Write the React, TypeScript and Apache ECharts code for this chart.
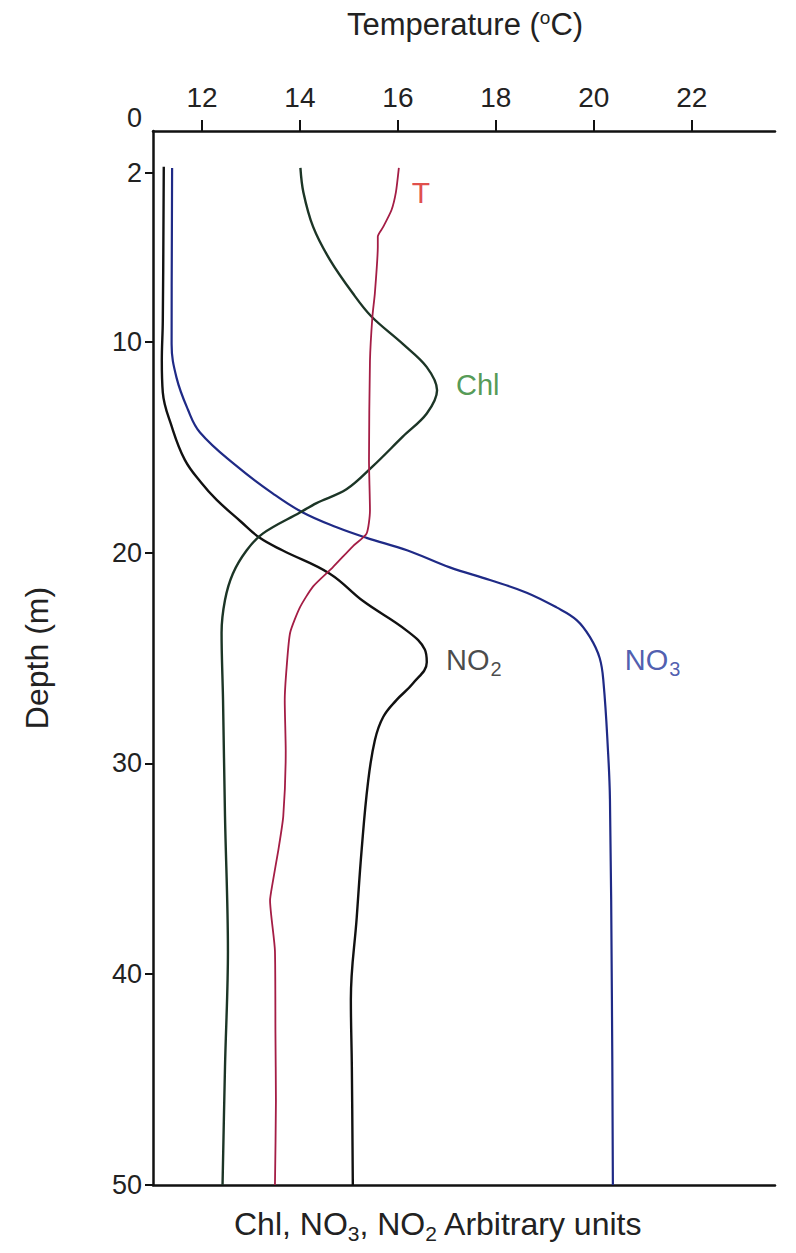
import React, { useEffect, useRef } from "react";
import * as echarts from "echarts";

// Depth (m) and values on the shared temperature scale
const no2Depth = [1.7, 9.0, 10.9, 12.4, 14.0, 15.6, 16.7, 17.5, 18.5, 19.3, 19.9, 21.0, 22.3, 23.7, 24.6, 25.2, 26.2, 27.0, 27.8, 28.9, 30.9, 34.1, 37.3, 41.2, 44.4, 50];
const no2Value = [11.22, 11.2, 11.18, 11.2, 11.38, 11.65, 11.99, 12.3, 12.78, 13.18, 13.65, 14.61, 15.29, 16.18, 16.55, 16.59, 16.31, 15.97, 15.7, 15.53, 15.39, 15.26, 15.16, 15.04, 15.06, 15.08];

const no3Depth = [1.75, 10.1, 11.7, 13.2, 14.3, 15.9, 17.2, 18.1, 18.8, 19.3, 19.9, 20.7, 21.3, 21.9, 22.6, 23.2, 24.0, 25.0, 26.2, 29.4, 31.7, 41.2, 50];
const no3Value = [11.39, 11.38, 11.48, 11.71, 11.96, 12.71, 13.45, 14.06, 14.75, 15.36, 16.2, 17.06, 17.88, 18.63, 19.24, 19.65, 19.92, 20.12, 20.2, 20.29, 20.33, 20.37, 20.39];

const chlDepth = [1.75, 2.9, 4.55, 6.1, 7.7, 8.8, 10.1, 11.2, 12.3, 13.4, 14.5, 15.9, 17.0, 17.65, 18.1, 19.1, 19.9, 21.0, 22.25, 23.8, 27.0, 32.5, 38.9, 44.4, 50];
const chlValue = [14.01, 14.07, 14.27, 14.61, 15.08, 15.46, 16.1, 16.59, 16.8, 16.59, 16.1, 15.49, 14.95, 14.34, 14.0, 13.24, 12.91, 12.63, 12.47, 12.4, 12.43, 12.47, 12.53, 12.47, 12.42];

const tDepth = [1.75, 2.9, 3.75, 4.55, 5.0, 5.5, 7.7, 8.8, 10.9, 15.6, 18.0, 19.1, 19.7, 20.7, 21.6, 22.6, 23.8, 25.4, 27.0, 29.4, 32.5, 34.1, 35.7, 36.5, 38.9, 42.8, 46.0, 50];
const tValue = [16.02, 15.96, 15.87, 15.7, 15.59, 15.59, 15.53, 15.48, 15.43, 15.41, 15.43, 15.36, 15.08, 14.67, 14.27, 14.0, 13.8, 13.73, 13.69, 13.71, 13.66, 13.56, 13.44, 13.39, 13.49, 13.5, 13.51, 13.49];

const tempTicks = [12, 14, 16, 18, 20, 22];
const depthLabels = [0, 2, 10, 20, 30, 40, 50];
const depthTicks = [2, 10, 20, 30, 40, 50];

// Curve annotations: [label, x value, depth]
const curveLabels: [string, number, number][] = [
  ["{t|T}", 16.47, 2.9],
  ["{c|Chl}", 17.63, 12.05],
  ["{k|NO}{ks|2}", 17.55, 25.1],
  ["{b|NO}{bs|3}", 21.2, 25.1],
];

const FONT = "'Liberation Sans', Arial, Helvetica, sans-serif";

const zip = (d: number[], v: number[]) => d.map((dd, i) => [v[i], dd]);

export default function App() {
  const ref = useRef<HTMLDivElement>(null);
  useEffect(() => {
    if (!ref.current) return;
    const chart = echarts.init(ref.current, undefined, { renderer: "svg" });
    const lineSeries = (data: number[][], color: string, width: number, smooth: number) => ({
      type: "line",
      data,
      xAxisIndex: 0,
      yAxisIndex: 0,
      showSymbol: false,
      symbol: "none",
      smooth,
      lineStyle: { color, width },
      silent: true,
    });
    chart.setOption({
      animation: false,
      backgroundColor: "#ffffff",
      textStyle: { fontFamily: FONT },
      grid: { left: 153, right: 21, top: 131, bottom: 68, containLabel: false, outerBoundsMode: "none" },
      xAxis: [
        {
          type: "value",
          position: "top",
          min: 11,
          max: 23.7,
          axisLine: { show: true, onZero: false, lineStyle: { color: "#111", width: 2.5 } },
          axisTick: { show: true, inside: false, length: 11, customValues: tempTicks, lineStyle: { color: "#111", width: 2 } },
          axisLabel: { show: true, customValues: tempTicks, margin: 20, fontSize: 28, color: "#222", fontFamily: FONT },
          splitLine: { show: false },
        },
        {
          type: "value",
          position: "bottom",
          min: 11,
          max: 23.7,
          axisLine: { show: true, onZero: false, lineStyle: { color: "#111", width: 2.5 } },
          axisTick: { show: false },
          axisLabel: { show: false },
          splitLine: { show: false },
        },
      ],
      yAxis: {
        type: "value",
        inverse: true,
        min: 0,
        max: 50,
        axisLine: { show: true, onZero: false, lineStyle: { color: "#111", width: 2.5 } },
        axisTick: { show: true, length: 8, customValues: depthTicks, lineStyle: { color: "#111", width: 2 } },
        axisLabel: {
          show: true,
          customValues: depthLabels,
          margin: 11,
          fontSize: 27,
          color: "#222",
          fontFamily: FONT,
          formatter: (v: number) => (v === 0 ? "{z|0}" : String(v)),
          rich: { z: { fontSize: 27, color: "#222", fontFamily: FONT, padding: [0, 0, 26, 0] } },
        },
        splitLine: { show: false },
        name: "Depth (m)",
        nameLocation: "middle",
        nameGap: 100,
        nameRotate: 90,
        nameTextStyle: { fontSize: 32, color: "#222", fontFamily: FONT },
      },
      series: [
        lineSeries(zip(no2Depth, no2Value), "#111111", 2.4, 0.4),
        lineSeries(zip(no3Depth, no3Value), "#1f2a86", 2.2, 0.4),
        lineSeries(zip(chlDepth, chlValue), "#1c3526", 2.4, 0.35),
        lineSeries(zip(tDepth, tValue), "#a41d45", 1.8, 0.2),
        {
          type: "scatter",
          data: curveLabels.map(([t, x, d]) => ({ value: [x, d], name: t })),
          symbolSize: 0,
          silent: true,
          label: {
            show: true,
            position: "inside",
            formatter: (p: any) => p.name,
            rich: {
              t: { fontSize: 30, color: "#d8201c", fontFamily: FONT },
              c: { fontSize: 29, color: "#28802a", fontFamily: FONT },
              k: { fontSize: 29, color: "#1a1a1a", fontFamily: FONT },
              ks: { fontSize: 20, color: "#1a1a1a", fontFamily: FONT, padding: [17, 0, 0, 1] },
              b: { fontSize: 29, color: "#22349a", fontFamily: FONT },
              bs: { fontSize: 20, color: "#22349a", fontFamily: FONT, padding: [17, 0, 0, 1] },
            },
          },
        },
      ],
      graphic: [
        {
          type: "text",
          x: 465,
          y: 8,
          silent: true,
          style: {
            text: "{m|Temperature (}{o|o}{m|C)}",
            align: "center",
            verticalAlign: "top",
            rich: {
              m: { fontSize: 31, fill: "#222", fontFamily: FONT },
              o: { fontSize: 19, fill: "#222", fontFamily: FONT, padding: [0, 0, 14, 0] },
            },
          },
        },
        {
          type: "text",
          left: 234,
          top: 1208,
          silent: true,
          style: {
            text: "{m|Chl, NO}{s|3}{m|, NO}{s|2}{m| Arbitrary units}",
            rich: {
              m: { fontSize: 32, fill: "#222", fontFamily: FONT },
              s: { fontSize: 21, fill: "#222", fontFamily: FONT, padding: [19, 0, 0, 0] },
            },
          },
        },
      ],
    });
    return () => chart.dispose();
  }, []);
  return <div ref={ref} style={{ width: 796, height: 1253, position: "absolute", left: 0, top: 0 }} />;
}
